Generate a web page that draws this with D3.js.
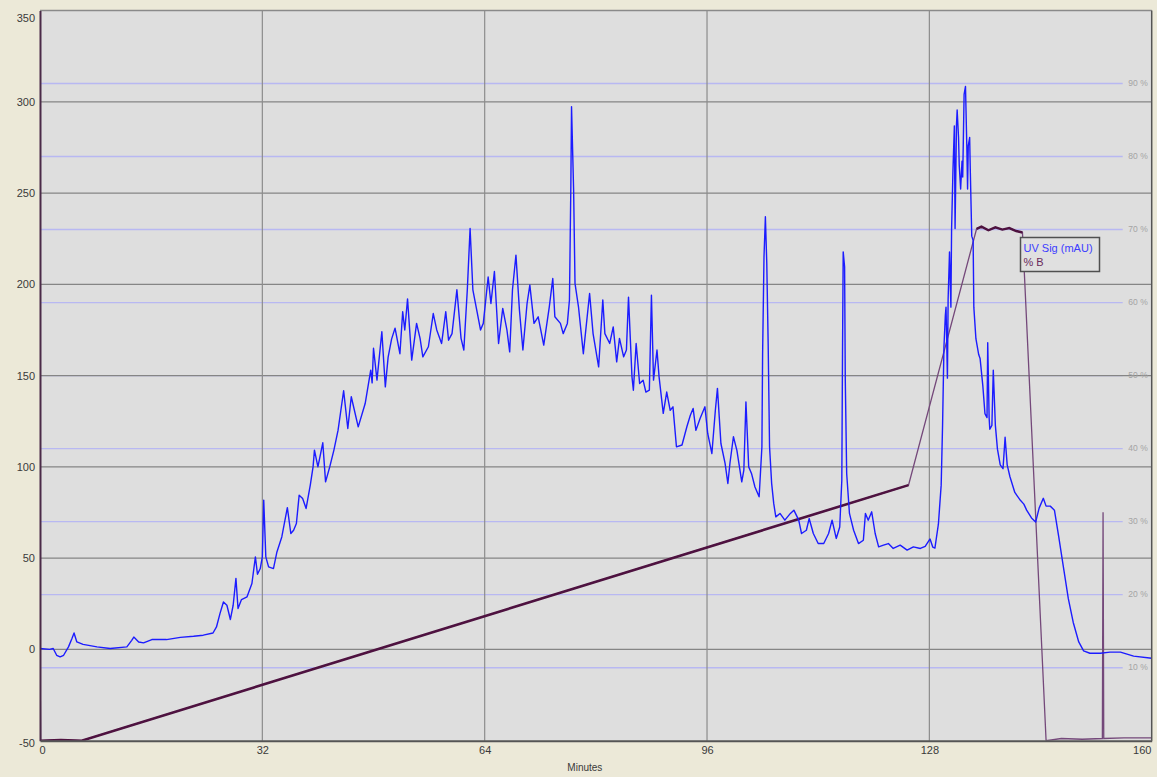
<!DOCTYPE html>
<html>
<head>
<meta charset="utf-8">
<script src="https://cdnjs.cloudflare.com/ajax/libs/d3/7.8.5/d3.min.js"></script>
<style>
body { margin: 0; background: #ece9d8; }
svg { display: block; font-family: "Liberation Sans", Arial, sans-serif; }
</style>
</head>
<body>
<svg id="chart" width="1157" height="777"></svg>
<script>
// tick values
const minuteTicks = [0, 32, 64, 96, 128, 160];
const mauTicks = [-50, 0, 50, 100, 150, 200, 250, 300, 350];
const pctTicks = [10, 20, 30, 40, 50, 60, 70, 80, 90];
const legendLabels = ['UV Sig (mAU)', '% B'];

// UV signal, [minutes, mAU]
const uvTrace = [
  [0, 0.5], [1.4, 0], [1.9, 0.5], [2.4, -3.2], [2.9, -4.1], [3.4, -3.2], [4.1, 1.4], [4.6, 6], [4.9, 9], [5.3, 4.1],
  [6.2, 2.8], [8.2, 1.4], [10.1, 0.5], [12.5, 1.4], [13.2, 5], [13.5, 6.8], [14.2, 4.1], [14.9, 3.6], [16.1, 5.4], [18.2, 5.4],
  [20.2, 6.6], [22.1, 7.2], [23.5, 7.8], [24.9, 9], [25.4, 12.3], [25.9, 19.6], [26.4, 26], [26.9, 24.2], [27.4, 16.4], [27.8, 24.2],
  [28.2, 38.9], [28.5, 22.4], [29.0, 27.3], [29.8, 28.8], [30.5, 36.1], [31.0, 50.7], [31.3, 41.2], [31.7, 44.3], [32.0, 50.7], [32.2, 81.8],
  [32.5, 50.7], [32.9, 45.2], [33.6, 44.3], [34.1, 53.4], [34.8, 61.6], [35.6, 77.7], [36.1, 63.5], [36.5, 65.3], [36.9, 69], [37.3, 84.5],
  [37.8, 82.7], [38.3, 77.2], [38.9, 90], [39.3, 100], [39.5, 109.2], [40.0, 100], [40.7, 113.2], [41.1, 91.8], [41.7, 100], [42.3, 109.2],
  [42.9, 120.1], [43.7, 141.7], [44.3, 121], [44.8, 138.4], [45.8, 121.9], [46.8, 134.7], [47.6, 153], [47.8, 146], [48.0, 165], [48.5, 147.5],
  [49.2, 174], [49.7, 143.8], [50.1, 160], [50.6, 170], [51.1, 176], [51.8, 162], [52.2, 185], [52.5, 175], [52.9, 192], [53.5, 158.5],
  [54.2, 178.6], [54.7, 170.4], [55.1, 160.3], [55.9, 165.8], [56.6, 184], [57.1, 175], [57.8, 167.6], [58.4, 185], [58.8, 169.4], [59.3, 173],
  [60.0, 197], [60.6, 170.4], [61.0, 164], [61.5, 197], [61.9, 230.6], [62.3, 197], [62.9, 185], [63.4, 175], [63.8, 178.6], [64.5, 204],
  [64.9, 189.5], [65.4, 207], [66.0, 167.6], [66.6, 186.8], [67.2, 175], [67.6, 163], [68.0, 197], [68.5, 216], [69.0, 186], [69.5, 164],
  [70.1, 189.5], [70.5, 199.6], [71.1, 178.6], [71.7, 182.2], [72.5, 166.7], [73.3, 187.7], [73.8, 203.2], [74.1, 182.2], [74.9, 178.6], [75.3, 173],
  [75.9, 178.6], [76.2, 191.4], [76.4, 253.4], [76.5, 297.3], [76.8, 251.6], [77.0, 200.5], [77.5, 187.7], [78.2, 162], [79.1, 195], [79.6, 173],
  [80.4, 154.8], [81.0, 191.4], [81.3, 173], [82.0, 167.6], [82.5, 176.7], [83.0, 157.5], [83.4, 170.4], [84.0, 160.3], [84.4, 164], [84.7, 193],
  [85.2, 149.3], [85.4, 142], [85.8, 167.6], [86.3, 145.7], [86.8, 147.5], [87.2, 141], [87.7, 142], [88.0, 194], [88.3, 147.5], [88.8, 164],
  [89.1, 149.3], [89.7, 129.3], [90.2, 141], [90.7, 131], [91.1, 132.9], [91.6, 111], [92.4, 112], [93.1, 122], [93.6, 128.3], [94.0, 132],
  [94.4, 120], [95.0, 126.5], [95.7, 132.9], [96.1, 118.3], [96.7, 107.3], [97.2, 131], [97.5, 143], [98.0, 112.8], [98.6, 101.9], [99.0, 90.9],
  [99.3, 102], [99.8, 116.5], [100.3, 109], [101.0, 91.8], [101.3, 98.2], [101.6, 135.6], [102.0, 100], [102.4, 96.4], [102.9, 89], [103.5, 83.6],
  [103.9, 111], [104.0, 162], [104.2, 215], [104.4, 237], [104.6, 211.5], [104.8, 167.6], [105.0, 111], [105.3, 91], [105.6, 80], [105.9, 72.6],
  [106.5, 74.5], [107.2, 70.8], [108.0, 74.5], [108.5, 76.3], [109.2, 70.8], [109.6, 63.5], [110.3, 65.3], [110.7, 71.7], [111.3, 63.5], [112.0, 58],
  [112.8, 58], [113.5, 63.5], [114.0, 70.8], [114.6, 60.8], [115.1, 67.1], [115.4, 92.7], [115.5, 162], [115.6, 217.8], [115.8, 209.6], [115.9, 147.5],
  [116.1, 96.4], [116.5, 74.5], [117.1, 65.3], [117.8, 58], [118.5, 59.8], [118.8, 74.5], [119.2, 70.8], [119.7, 75.4], [120.2, 63.5], [120.7, 56.2],
  [121.4, 57.1], [122.1, 58], [122.8, 55.3], [123.8, 57.1], [124.8, 54.4], [125.7, 56.2], [126.7, 55.3], [127.4, 56.5], [128.1, 60.5], [128.5, 56],
  [128.8, 55.5], [129.3, 68.6], [129.7, 90], [129.9, 122.6], [130.1, 165.8], [130.3, 183], [130.4, 187.5], [130.6, 148.6], [130.7, 191.7], [130.9, 217.7],
  [131.1, 187.5], [131.2, 230.6], [131.4, 263], [131.6, 286.8], [131.7, 230.6], [131.9, 286.8], [132.0, 295.5], [132.2, 280.4], [132.3, 265.3], [132.5, 252.2],
  [132.7, 267.4], [132.8, 258.8], [133.0, 304], [133.2, 308.4], [133.4, 273.8], [133.5, 252.2], [133.6, 276], [133.8, 280.4], [133.9, 261], [134.1, 226.4],
  [134.3, 224.2], [134.4, 187.5], [134.7, 170.2], [135.1, 161.5], [135.3, 159.4], [135.7, 144.2], [136.0, 129.2], [136.3, 127], [136.4, 168], [136.6, 127],
  [136.7, 120.6], [137.0, 122.7], [137.2, 152.9], [137.5, 122.7], [137.8, 109.7], [138.2, 101.1], [138.6, 99], [138.9, 116.2], [139.2, 101.1], [139.6, 94.6],
  [140.3, 86], [141.1, 81.7], [141.6, 79.6], [142.0, 76.3], [142.7, 72], [143.3, 69.8], [143.8, 77.4], [144.4, 82.8], [144.8, 78.5], [145.4, 78.5],
  [146.0, 76.3], [146.6, 62.2], [147.3, 45], [148.0, 27.8], [148.7, 14.9], [149.5, 4.1], [150.2, -0.8], [151.1, -2.1], [152.6, -2.1], [154.0, -1.5],
  [155.5, -1.5], [157.4, -3.7], [160, -4.8]
];

// % B gradient, [minutes, percent]
const pctBTrace = [
  [0, 12.6], [0.1, 0], [3, 0.1], [6.0, 0], [125.0, 35.0], [134.8, 70.1], [135.5, 70.4], [136.5, 69.9], [137.5, 70.3], [138.5, 70.0],
  [139.5, 70.2], [140.5, 69.8], [141.4, 69.6], [144.8, 0], [147, 0.3], [150, 0.2], [152.9, 0.3], [153.0, 31.3], [153.1, 0.3], [156, 0.4],
  [160, 0.4]
];

const svg = d3.select('#chart');
const x = d3.scaleLinear().domain([0, 160]).range([40, 1151.7]);
const y = d3.scaleLinear().domain([-50, 350]).range([740.7, 10.5]);
const yPct = d3.scaleLinear().domain([0, 100]).range([740.7, 10.5]);

const plotLeft = x(0), plotRight = x(160), plotTop = y(350), plotBottom = y(-50);

// plot background
svg.append('rect')
  .attr('x', plotLeft).attr('y', plotTop)
  .attr('width', plotRight - plotLeft).attr('height', plotBottom - plotTop)
  .attr('fill', '#dedede');

// % B guide lines
svg.append('g').selectAll('line').data(pctTicks).join('line')
  .attr('x1', plotLeft).attr('x2', plotRight - 29)
  .attr('y1', d => yPct(d)).attr('y2', d => yPct(d))
  .attr('stroke', '#b8b8f2').attr('stroke-width', 1.4);

// mAU grid
svg.append('g').selectAll('line').data(mauTicks.filter(d => d > -50 && d < 350)).join('line')
  .attr('x1', plotLeft).attr('x2', plotRight)
  .attr('y1', d => y(d)).attr('y2', d => y(d))
  .attr('stroke', '#858585').attr('stroke-width', 1.3);

// minute grid
svg.append('g').selectAll('line').data(minuteTicks.filter(d => d > 0 && d < 160)).join('line')
  .attr('x1', d => x(d)).attr('x2', d => x(d))
  .attr('y1', plotTop).attr('y2', plotBottom)
  .attr('stroke', '#8c8c8c').attr('stroke-width', 1.2);

// right % labels
svg.append('g').selectAll('text').data(pctTicks).join('text')
  .attr('x', plotRight - 4).attr('y', d => yPct(d)).attr('dy', '0.32em')
  .attr('text-anchor', 'end')
  .attr('font-size', 8.5).attr('fill', '#a4a4a4')
  .text(d => d + ' %');

// traces
svg.append('clipPath').attr('id', 'plotClip')
  .append('rect').attr('x', plotLeft).attr('y', plotTop)
  .attr('width', plotRight - plotLeft).attr('height', plotBottom - plotTop);

const plot = svg.append('g').attr('clip-path', 'url(#plotClip)');

const pctLine = d3.line().x(d => x(d[0])).y(d => yPct(d[1]));
const uvLine = d3.line().x(d => x(d[0])).y(d => y(d[1]));

plot.append('path').datum(pctBTrace)
  .attr('d', pctLine).attr('fill', 'none')
  .attr('stroke', '#74487a').attr('stroke-width', 1.3);

// thick, noisy-looking parts of the gradient
plot.append('path').datum(pctBTrace.filter(d => d[0] >= 0.1 && d[0] <= 125))
  .attr('d', pctLine).attr('fill', 'none')
  .attr('stroke', '#4e1240').attr('stroke-width', 2.6);
plot.append('path').datum(pctBTrace.filter(d => d[0] >= 134.8 && d[0] <= 141.4))
  .attr('d', pctLine).attr('fill', 'none')
  .attr('stroke', '#4e1240').attr('stroke-width', 2.4);

plot.append('path').datum(uvTrace)
  .attr('d', uvLine).attr('fill', 'none')
  .attr('stroke', '#1c1cff').attr('stroke-width', 1.4)
  .attr('stroke-linejoin', 'round');

// frame
svg.append('line').attr('x1', plotLeft).attr('x2', plotRight).attr('y1', plotTop).attr('y2', plotTop)
  .attr('stroke', '#8a8a8a').attr('stroke-width', 1.5);
svg.append('line').attr('x1', plotRight).attr('x2', plotRight).attr('y1', plotTop).attr('y2', plotBottom)
  .attr('stroke', '#555').attr('stroke-width', 1.5);

// left axis
const yAxis = svg.append('g')
  .attr('transform', `translate(${plotLeft},0)`)
  .call(d3.axisLeft(y).tickValues(mauTicks).tickSize(0).tickPadding(5).tickFormat(d => String(d)));
yAxis.select('.domain').attr('stroke', '#4a2a48').attr('stroke-width', 2);
yAxis.selectAll('text').attr('font-size', 11).attr('fill', '#3a3a3a')
  .attr('font-family', '"Liberation Sans", Arial, sans-serif')
  .attr('dy', d => d === 350 ? '1.0em' : (d === -50 ? '0.5em' : '0.32em'));

// bottom axis
const xAxis = svg.append('g')
  .attr('transform', `translate(0,${plotBottom})`)
  .call(d3.axisBottom(x).tickValues(minuteTicks).tickSize(0).tickPadding(6).tickFormat(d => String(d)));
xAxis.select('.domain').attr('stroke', '#555').attr('stroke-width', 2);
xAxis.selectAll('text').attr('font-size', 11).attr('fill', '#3a3a3a')
  .attr('font-family', '"Liberation Sans", Arial, sans-serif')
  .attr('dx', d => d === 0 ? 2 : (d === 160 ? -10 : 0));

svg.append('text')
  .attr('x', (plotLeft + plotRight) / 2 - 11).attr('y', 771)
  .attr('text-anchor', 'middle')
  .attr('font-size', 10).attr('fill', '#3a3a3a')
  .text('Minutes');

// legend
const legend = svg.append('g').attr('transform', 'translate(1020.5,237.5)');
legend.append('rect')
  .attr('width', 79).attr('height', 34)
  .attr('fill', '#e0e0e0').attr('stroke', '#505050').attr('stroke-width', 1.5);
legend.selectAll('text').data(legendLabels).join('text')
  .attr('x', 3).attr('y', (d, i) => 14 + i * 14)
  .attr('font-size', 11)
  .attr('fill', (d, i) => i === 0 ? '#3c3cff' : '#6a2a5c')
  .text(d => d);
</script>
</body>
</html>
